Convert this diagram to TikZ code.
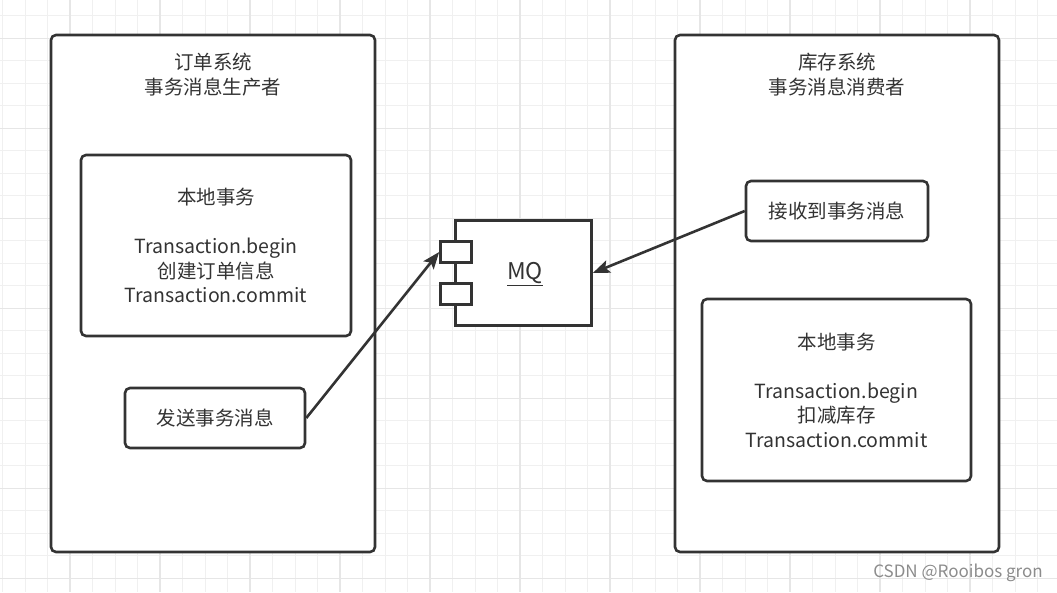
\documentclass[tikz,border=0pt]{standalone}
\usepackage{fontspec}
\setmainfont{Noto Sans CJK SC}
\usetikzlibrary{arrows.meta}
\definecolor{ink}{HTML}{333333}
\definecolor{gminor}{HTML}{F0F0F0}
\definecolor{gmajor}{HTML}{E6E6E6}
\definecolor{wm}{HTML}{8C8C8C}
\tikzset{
  minorgrid/.style={gminor, line width=0.9pt},
  majorgrid/.style={gmajor, line width=1.1pt},
  frame/.style={draw=ink, line width=2.6pt, rounded corners=5pt, fill=white, inner sep=0pt},
  plainbox/.style={draw=ink, line width=2.6pt, fill=white, inner sep=0pt},
  txt/.style={text=ink, font=\fontsize{19.5}{24.5}\selectfont, align=center, inner sep=0pt},
  conn/.style={draw=ink, line width=2.6pt, -{Stealth[length=17pt, width=13pt, inset=3.5pt]}},
}
\begin{document}
\begin{tikzpicture}[x=1pt, y=-1pt]
\useasboundingbox (0,0) rectangle (1057,592);
\fill[white] (0,0) rectangle (1057,592);
% grid
\foreach \i in {0,...,46} {\draw[minorgrid] ({2.5+22.5*\i},0) -- ({2.5+22.5*\i},592);}
\foreach \j in {0,...,25} {\draw[minorgrid] (0,{15.8+22.5*\j}) -- (1057,{15.8+22.5*\j});}
\foreach \i in {0,...,10} {\draw[majorgrid] ({70+90*\i},0) -- ({70+90*\i},592);}
\foreach \j in {0,...,6} {\draw[majorgrid] (0,{38.3+90*\j}) -- (1057,{38.3+90*\j});}

% left system
\node[frame, minimum width=324pt, minimum height=517pt] (left) at (213,293.5) {};
\node[txt] (lefttitle) at (213,74.5) {订单系统\\事务消息生产者};
\node[frame, txt, minimum width=270pt, minimum height=181pt] (ltx) at (216,245.5)
  {本地事务\\[24.5pt]Transaction.begin\\创建订单信息\\Transaction.commit};
\node[frame, txt, minimum width=180pt, minimum height=60pt] (send) at (215,418) {发送事务消息};

% right system
\node[frame, minimum width=324pt, minimum height=517pt] (right) at (837,293.5) {};
\node[txt] (righttitle) at (837,74.5) {库存系统\\事务消息消费者};
\node[frame, txt, minimum width=182pt, minimum height=60pt] (recv) at (837,211) {接收到事务消息};
\node[frame, txt, minimum width=269pt, minimum height=182pt] (rtx) at (836.5,390)
  {本地事务\\[24.5pt]Transaction.begin\\扣减库存\\Transaction.commit};

% MQ component
\node[plainbox, minimum width=136pt, minimum height=105pt] (mq) at (523.5,273) {};
\node[txt, font=\fontsize{23}{24}\selectfont] (mqlabel) at (525,274) {\underline{MQ}};
\node[plainbox, minimum width=31pt, minimum height=21pt] (port1) at (456,252) {};
\node[plainbox, minimum width=31pt, minimum height=21pt] (port2) at (456,294) {};

% connectors
\draw[conn] (send.east) -- (port1.west);
\draw[conn] (recv.west) -- (mq.east);

% watermark
\node[text=wm, font=\fontsize{17}{17}\selectfont, inner sep=0pt] (wmark) at (958,573) {CSDN @Rooibos gron};
\end{tikzpicture}
\end{document}
